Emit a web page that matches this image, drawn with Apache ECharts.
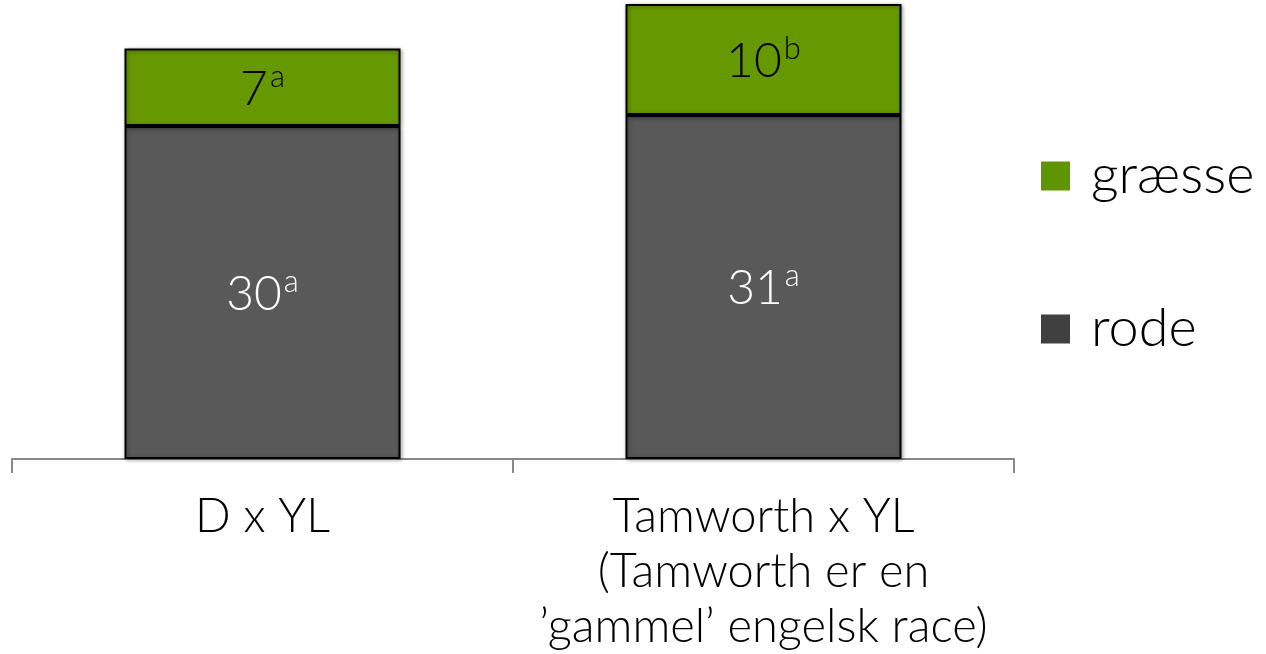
<!DOCTYPE html>
<html>
<head>
<meta charset="utf-8">
<script src="https://cdn.jsdelivr.net/npm/echarts@6/dist/echarts.min.js"></script>
<style>
  html, body { margin: 0; padding: 0; background: #fff; }
  #chart { width: 1266px; height: 654px; }
</style>
</head>
<body>
<div id="chart"></div>
<script>
// Crossbreeds on the x axis
const categories = ['D x YL', 'Tamworth x YL\n(Tamworth er en\n\u2019gammel\u2019 engelsk race)'];
// Stacked values per crossbreed
const rode = [30, 31];
const graesse = [7, 10];
// Significance letters shown as superscripts
const rodeLetters = ['a', 'a'];
const graesseLetters = ['a', 'b'];

const FONT = 'Lato';

function supLabel(letters, color) {
  return {
    show: true,
    position: 'inside',
    formatter: p => '{n|' + p.value + '}{s|' + letters[p.dataIndex] + '}',
    rich: {
      n: { fontFamily: FONT, fontWeight: 300, fontSize: 48, color: color, lineHeight: 52, verticalAlign: 'bottom' },
      s: { fontFamily: FONT, fontWeight: 300, fontSize: 31, color: color, lineHeight: 52, verticalAlign: 'top', padding: [0, 0, 12, 2] }
    }
  };
}

const barStyle = (color) => ({
  color: color,
  borderColor: '#000',
  borderWidth: 2,
  shadowBlur: 4,
  shadowColor: 'rgba(0,0,0,0.35)',
  shadowOffsetX: 1,
  shadowOffsetY: 1
});

const chart = echarts.init(document.getElementById('chart'));
chart.setOption({
  animation: false,
  grid: { left: 12, right: 252, top: 4, bottom: 195, containLabel: false },
  legend: {
    orient: 'vertical',
    left: 1036,
    top: 144,
    itemWidth: 29,
    itemHeight: 29,
    itemGap: 99,
    icon: 'rect',
    textStyle: { fontFamily: FONT, fontWeight: 300, fontSize: 54, color: '#000', padding: [0, 0, 0, 16] },
    data: [
      { name: 'græsse', itemStyle: { color: '#5f9500', borderWidth: 0, shadowBlur: 0 } },
      { name: 'rode', itemStyle: { color: '#404040', borderWidth: 0, shadowBlur: 0 } }
    ]
  },
  xAxis: {
    type: 'category',
    data: categories,
    axisLine: { lineStyle: { color: '#888', width: 2 } },
    axisTick: { show: true, length: 14, lineStyle: { color: '#888', width: 2 } },
    axisLabel: {
      interval: 0,
      hideOverlap: false,
      margin: 30,
      fontFamily: FONT,
      fontWeight: 300,
      fontSize: 47,
      lineHeight: 55,
      color: '#000'
    }
  },
  yAxis: {
    type: 'value',
    min: 0,
    max: 41,
    show: false,
    splitLine: { show: false }
  },
  series: [
    {
      name: 'rode',
      type: 'bar',
      stack: 'total',
      barWidth: 276,
      data: rode,
      itemStyle: barStyle('#595959'),
      label: supLabel(rodeLetters, '#fff')
    },
    {
      name: 'græsse',
      type: 'bar',
      stack: 'total',
      barWidth: 276,
      data: graesse,
      itemStyle: barStyle('#669900'),
      label: supLabel(graesseLetters, '#000')
    }
  ]
});
</script>
</body>
</html>
